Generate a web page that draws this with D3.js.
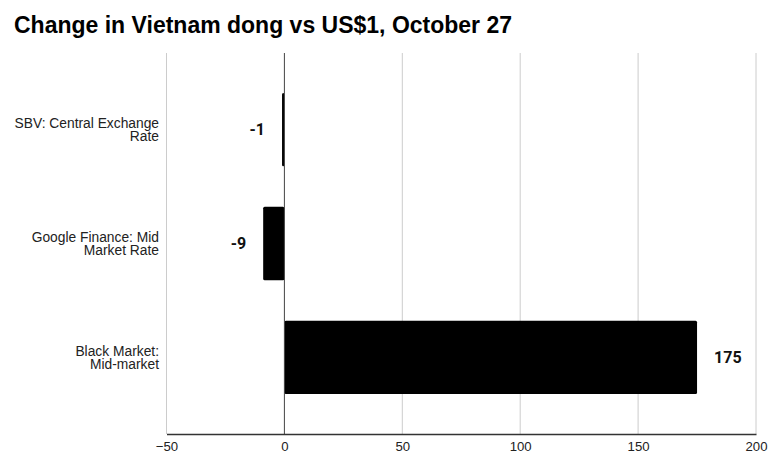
<!DOCTYPE html>
<html>
<head>
<meta charset="utf-8">
<script src="https://cdn.jsdelivr.net/npm/d3@7"></script>
<style>
  body { margin: 0; background: #fff; }
  svg { display: block; }
</style>
</head>
<body>
<svg id="chart" width="775" height="473"></svg>
<script>
const title = "Change in Vietnam dong vs US$1, October 27";
const categories = [
  ["SBV: Central Exchange", "Rate"],
  ["Google Finance: Mid", "Market Rate"],
  ["Black Market:", "Mid-market"]
];
const values = [-1, -9, 175];
const valueLabels = ["-1", "-9", "175"];
const xTicks = [-50, 0, 50, 100, 150, 200];

const svg = d3.select("#chart");
const W = 775, H = 473;
const m = { left: 166.5, right: 19, top: 53, bottom: 39 };
const FONT = "'Liberation Sans', Arial, sans-serif";

svg.append("rect").attr("width", W).attr("height", H).attr("fill", "#fff");

svg.append("text")
  .attr("x", 14).attr("y", 33)
  .attr("font-family", FONT)
  .attr("font-weight", "bold")
  .attr("font-size", 23)
  .attr("fill", "#000")
  .text(title);

const x = d3.scaleLinear().domain([-50, 200]).range([m.left, W - m.right]);
const y = d3.scaleBand().domain(d3.range(values.length))
  .range([m.top, H - m.bottom]).paddingInner(0.357).paddingOuter(0.35);

// gridlines
svg.append("g").selectAll("line").data(xTicks.filter(t => t !== 0)).join("line")
  .attr("x1", d => x(d)).attr("x2", d => x(d))
  .attr("y1", m.top).attr("y2", H - m.bottom)
  .attr("stroke", "#cccccc").attr("stroke-width", 1);

// bars
svg.append("g").selectAll("rect").data(values).join("rect")
  .attr("x", d => Math.min(x(0), x(d)))
  .attr("width", d => Math.abs(x(d) - x(0)))
  .attr("y", (d, i) => y(i))
  .attr("height", y.bandwidth())
  .attr("rx", 1.5)
  .attr("fill", "#000");

// zero line
svg.append("line")
  .attr("x1", x(0)).attr("x2", x(0))
  .attr("y1", m.top).attr("y2", H - m.bottom)
  .attr("stroke", "#444").attr("stroke-width", 1);

// bottom axis
const axis = d3.axisBottom(x).tickValues(xTicks).tickSize(0).tickPadding(8)
  .tickFormat(d3.format("d"));
const ga = svg.append("g").attr("transform", `translate(0,${H - m.bottom})`).call(axis);
ga.select(".domain").attr("stroke", "#333").attr("stroke-width", 1.3);
ga.selectAll("text")
  .attr("font-family", FONT)
  .attr("font-size", 13.2).attr("fill", "#222");

// category labels
const cat = svg.append("g").selectAll("text").data(categories).join("text")
  .attr("text-anchor", "end")
  .attr("font-family", FONT)
  .attr("font-size", 13.8).attr("fill", "#222")
  .attr("transform", (d, i) => `translate(159,${y(i) + y.bandwidth() / 2})`);
cat.each(function(d) {
  const t = d3.select(this);
  d.forEach((line, k) => {
    t.append("tspan").attr("x", 0)
      .attr("y", (k - (d.length - 1) / 2) * 13.5)
      .attr("dy", "0.35em").text(line);
  });
});

// value labels
svg.append("g").selectAll("text").data(values).join("text")
  .attr("x", d => d >= 0 ? x(d) + 17 : x(d) - 17)
  .attr("y", (d, i) => y(i) + y.bandwidth() / 2)
  .attr("dy", "0.35em")
  .attr("text-anchor", d => d >= 0 ? "start" : "end")
  .attr("font-family", "Roboto, sans-serif")
  .attr("font-weight", "bold")
  .attr("font-size", 16)
  .attr("fill", "#111")
  .text((d, i) => valueLabels[i]);
</script>
</body>
</html>
